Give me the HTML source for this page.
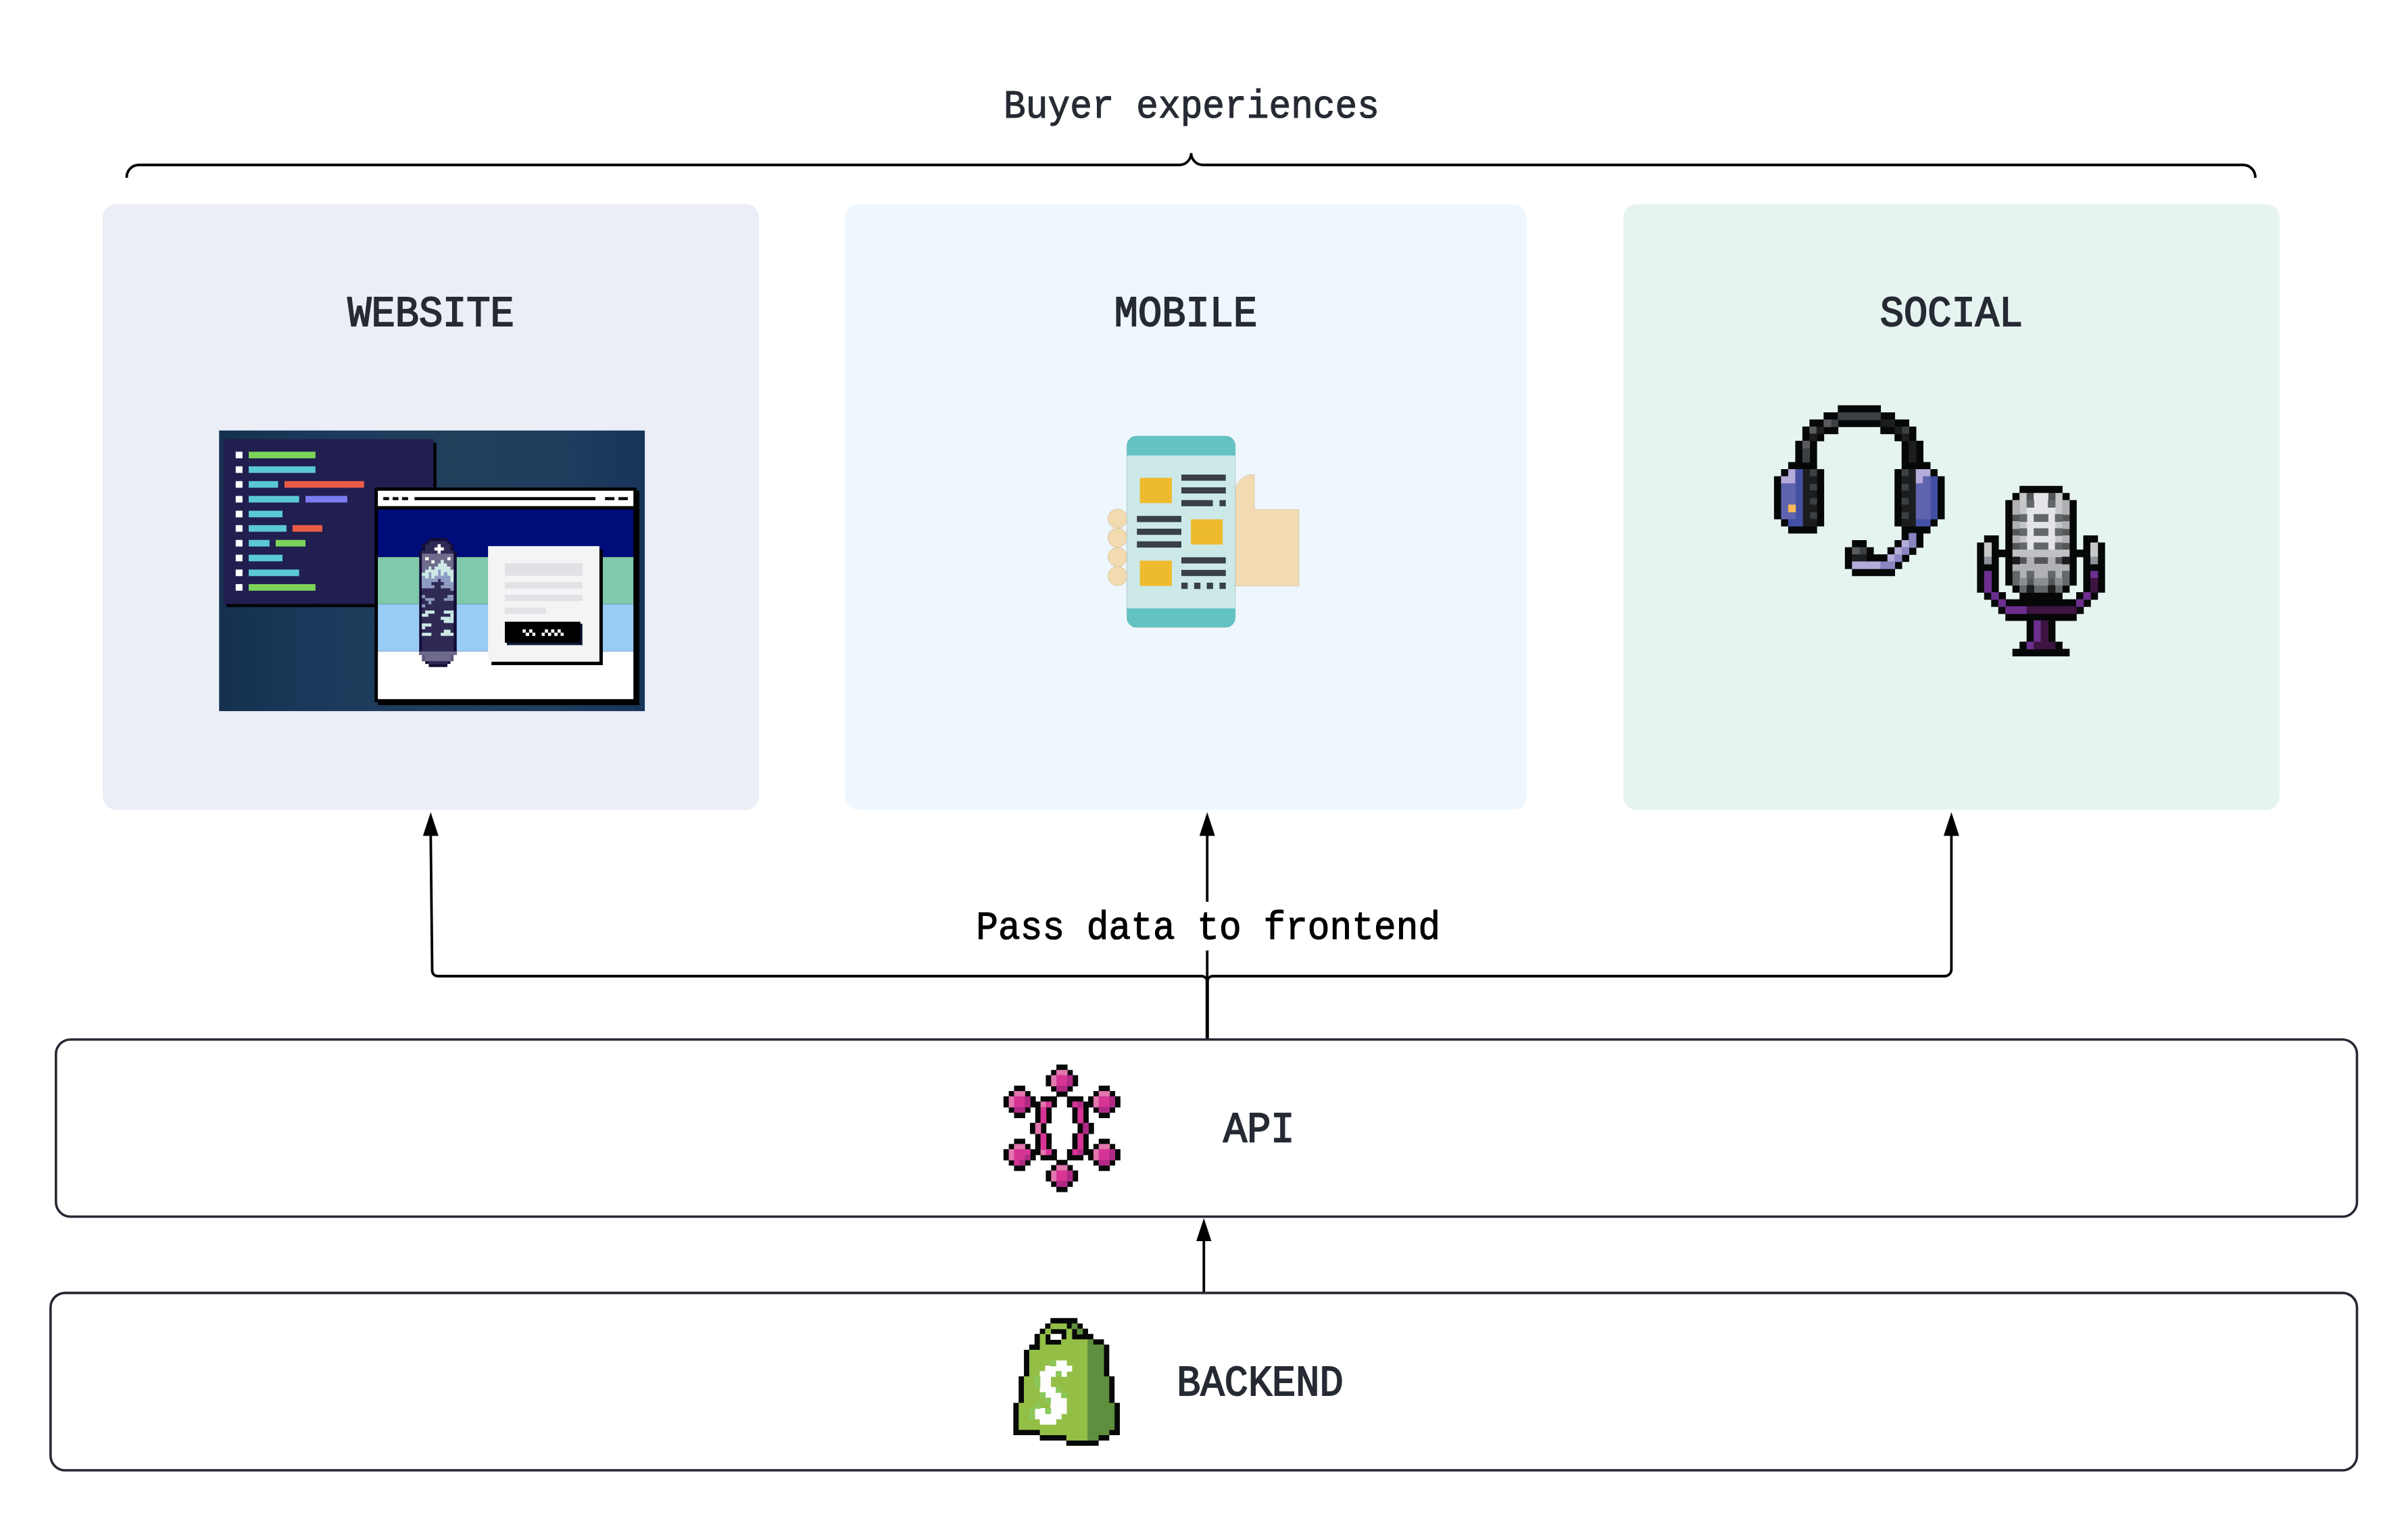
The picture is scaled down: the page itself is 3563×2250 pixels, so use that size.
<!DOCTYPE html>
<html><head><meta charset="utf-8"><title>Buyer experiences</title>
<style>html,body{margin:0;padding:0;background:#fff;width:3563px;height:2250px;overflow:hidden}svg{display:block}</style>
</head><body>
<svg width="3563" height="2250" viewBox="0 0 3563 2250">
<rect x="0" y="0" width="3563" height="2250" fill="#ffffff"/>
<rect x="152" y="302" width="971" height="896" rx="20" fill="#ebeef7"/>
<rect x="1250.6" y="302" width="1008.5" height="896" rx="20" fill="#eff7fe"/>
<rect x="2402" y="302" width="971" height="896" rx="20" fill="#e6f4f1"/>
<path d="M187.5,263 A18,18 0 0 1 205.5,244 H1745 A17.5,17.5 0 0 0 1762.5,226.5 A17.5,17.5 0 0 0 1780,244 H3319 A18,18 0 0 1 3337,263" fill="none" stroke="#000" stroke-width="3.8"/>
<g transform="translate(1763,174.2) scale(1,1.075)"><text x="0" y="0" text-anchor="middle" font-family="&quot;Liberation Mono&quot;, monospace" font-size="54.5" font-weight="normal" fill="#262a33" stroke="#262a33" stroke-width="1.1" stroke-linejoin="miter">Buyer experiences</text></g>
<g transform="translate(637.5,482.3) scale(1,1.06)"><text x="0" y="0" text-anchor="middle" font-family="&quot;Liberation Mono&quot;, monospace" font-size="58.7" font-weight="normal" fill="#262a33" stroke="#262a33" stroke-width="1.8" stroke-linejoin="miter">WEBSITE</text></g>
<g transform="translate(1754.5,482.3) scale(1,1.06)"><text x="0" y="0" text-anchor="middle" font-family="&quot;Liberation Mono&quot;, monospace" font-size="58.7" font-weight="normal" fill="#262a33" stroke="#262a33" stroke-width="1.8" stroke-linejoin="miter">MOBILE</text></g>
<g transform="translate(2887.5,482.3) scale(1,1.06)"><text x="0" y="0" text-anchor="middle" font-family="&quot;Liberation Mono&quot;, monospace" font-size="58.7" font-weight="normal" fill="#262a33" stroke="#262a33" stroke-width="1.8" stroke-linejoin="miter">SOCIAL</text></g>
<g transform="translate(310,620) scale(0.295858)">
<defs><linearGradient id="wbg" x1="0" y1="0" x2="1" y2="0"><stop offset="0" stop-color="#15304f"/><stop offset="0.25" stop-color="#1b3a5b"/><stop offset="0.55" stop-color="#223f5c"/><stop offset="0.8" stop-color="#1f3d5d"/><stop offset="1" stop-color="#18345a"/></linearGradient></defs>
<rect x="48" y="57" width="2129" height="1403" fill="url(#wbg)"/>
<rect x="85" y="117" width="1050" height="823" fill="#000000"/>
<rect x="70" y="100" width="1050" height="825" fill="#201f4f"/>
<rect x="131" y="163" width="34" height="33" fill="#ffffff"/>
<rect x="196" y="163" width="334" height="33" fill="#7dd35a"/>
<rect x="131" y="236" width="34" height="33" fill="#ffffff"/>
<rect x="196" y="236" width="334" height="33" fill="#5bc8d8"/>
<rect x="131" y="310" width="34" height="33" fill="#ffffff"/>
<rect x="196" y="310" width="147" height="33" fill="#5bc8d8"/>
<rect x="375" y="310" width="398" height="33" fill="#ec5c47"/>
<rect x="131" y="384" width="34" height="33" fill="#ffffff"/>
<rect x="196" y="384" width="252" height="33" fill="#5bc8d8"/>
<rect x="480" y="384" width="209" height="33" fill="#7b7bf2"/>
<rect x="131" y="458" width="34" height="33" fill="#ffffff"/>
<rect x="196" y="458" width="169" height="33" fill="#5bc8d8"/>
<rect x="131" y="530" width="34" height="33" fill="#ffffff"/>
<rect x="196" y="530" width="189" height="33" fill="#5bc8d8"/>
<rect x="415" y="530" width="149" height="33" fill="#ec5c47"/>
<rect x="131" y="604" width="34" height="33" fill="#ffffff"/>
<rect x="196" y="604" width="104" height="33" fill="#5bc8d8"/>
<rect x="331" y="604" width="149" height="33" fill="#7dd35a"/>
<rect x="131" y="678" width="34" height="33" fill="#ffffff"/>
<rect x="196" y="678" width="169" height="33" fill="#5bc8d8"/>
<rect x="131" y="752" width="34" height="33" fill="#ffffff"/>
<rect x="196" y="752" width="252" height="33" fill="#5bc8d8"/>
<rect x="131" y="825" width="34" height="33" fill="#ffffff"/>
<rect x="196" y="825" width="334" height="33" fill="#7dd35a"/>
<rect x="842" y="358" width="1308" height="1072" fill="#000000"/>
<rect x="826" y="342" width="1309" height="1073" fill="#000000"/>
<rect x="842" y="358" width="1278" height="77" fill="#ffffff"/>
<rect x="869" y="390" width="29" height="15" fill="#000000"/>
<rect x="916" y="390" width="29" height="15" fill="#000000"/>
<rect x="963" y="390" width="30" height="15" fill="#000000"/>
<rect x="1025" y="390" width="905" height="15" fill="#000000"/>
<rect x="1978" y="390" width="47" height="15" fill="#000000"/>
<rect x="2045" y="390" width="47" height="15" fill="#000000"/>
<rect x="842" y="452" width="1278" height="238" fill="#000c7a"/>
<rect x="842" y="690" width="1278" height="235" fill="#80c9aa"/>
<rect x="842" y="925" width="1278" height="237" fill="#99ccf5"/>
<rect x="842" y="1162" width="1278" height="238" fill="#ffffff"/>
<rect x="1410" y="652" width="557" height="578" fill="#000000"/>
<rect x="1393" y="635" width="557" height="578" fill="#f4f4f4"/>
<rect x="1477" y="720" width="388" height="63" fill="#e2e2e6"/>
<rect x="1477" y="815" width="388" height="32" fill="#e2e2e6"/>
<rect x="1477" y="878" width="388" height="32" fill="#e2e2e6"/>
<rect x="1477" y="942" width="206" height="31" fill="#e2e2e6"/>
<rect x="1487" y="1023" width="378" height="107" fill="#0a1838"/>
<rect x="1477" y="1013" width="378" height="105" fill="#000000"/>
</g>
<rect x="773.3" y="931.0" width="4.600000000000023" height="4.899999999999977" fill="#ffffff"/>
<rect x="783.0" y="931.0" width="4.7000000000000455" height="4.899999999999977" fill="#ffffff"/>
<rect x="806.2" y="931.0" width="4.599999999999909" height="4.899999999999977" fill="#ffffff"/>
<rect x="815.5" y="931.0" width="4.7000000000000455" height="4.899999999999977" fill="#ffffff"/>
<rect x="825.0" y="931.0" width="4.7000000000000455" height="4.899999999999977" fill="#ffffff"/>
<rect x="777.9" y="935.9" width="5.100000000000023" height="4.800000000000068" fill="#ffffff"/>
<rect x="787.7" y="935.9" width="4.399999999999977" height="4.800000000000068" fill="#ffffff"/>
<rect x="801.5" y="935.9" width="4.5" height="4.800000000000068" fill="#ffffff"/>
<rect x="810.8" y="935.9" width="4.7000000000000455" height="4.800000000000068" fill="#ffffff"/>
<rect x="820.2" y="935.9" width="4.7999999999999545" height="4.800000000000068" fill="#ffffff"/>
<rect x="829.5" y="935.9" width="4.5" height="4.800000000000068" fill="#ffffff"/>
<g transform="translate(610,790) scale(0.131579)">
<rect x="185" y="45" width="210" height="35" fill="#120e38"/>
<rect x="145" y="80" width="285" height="35" fill="#120e38"/>
<rect x="108" y="115" width="357" height="75" fill="#120e38"/>
<rect x="78" y="190" width="422" height="1170" fill="#120e38"/>
<rect x="185" y="80" width="210" height="35" fill="#2f2a55"/>
<rect x="145" y="115" width="285" height="75" fill="#2f2a55"/>
<rect x="108" y="190" width="357" height="30" fill="#2f2a55"/>
<rect x="250" y="150" width="105" height="35" fill="#ffffff"/>
<rect x="285" y="115" width="35" height="105" fill="#ffffff"/>
<rect x="108" y="220" width="357" height="420" fill="#6e6b8c"/>
<rect x="145" y="260" width="40" height="35" fill="#ffffff"/>
<rect x="215" y="295" width="35" height="35" fill="#ffffff"/>
<rect x="395" y="260" width="35" height="35" fill="#ffffff"/>
<path d="M108,580 V435 H145 V400 H185 V365 H215 V400 H250 V365 H290 V330 H320 V290 H355 V330 H390 V365 H430 V400 H465 V580 Z" fill="#cde9e6"/>
<path d="M108,640 V470 H145 V500 H185 V430 H215 V500 H250 V470 H290 V400 H320 V470 H355 V430 H395 V470 H430 V540 H465 V640 Z" fill="#8e9bc2"/>
<rect x="108" y="640" width="357" height="680" fill="#2f2a55"/>
<path d="M215,540 H290 V505 H320 V540 H355 V575 H320 V610 H430 V640 H108 V610 H250 V575 H215 Z" fill="#2f2a55"/>
<rect x="108" y="685" width="37" height="35" fill="#8e9bc2"/>
<rect x="145" y="720" width="105" height="30" fill="#8e9bc2"/>
<rect x="180" y="750" width="35" height="40" fill="#8e9bc2"/>
<rect x="395" y="685" width="70" height="35" fill="#8e9bc2"/>
<rect x="355" y="720" width="110" height="30" fill="#8e9bc2"/>
<rect x="108" y="790" width="37" height="35" fill="#8e9bc2"/>
<rect x="145" y="860" width="105" height="35" fill="#cde9e6"/>
<rect x="108" y="895" width="72" height="35" fill="#cde9e6"/>
<rect x="355" y="860" width="110" height="35" fill="#cde9e6"/>
<rect x="430" y="895" width="35" height="35" fill="#cde9e6"/>
<rect x="320" y="930" width="110" height="35" fill="#cde9e6"/>
<rect x="355" y="965" width="110" height="35" fill="#cde9e6"/>
<rect x="430" y="895" width="35" height="70" fill="#cde9e6"/>
<rect x="108" y="1005" width="107" height="35" fill="#cde9e6"/>
<rect x="108" y="1040" width="37" height="30" fill="#cde9e6"/>
<rect x="108" y="1110" width="107" height="35" fill="#cde9e6"/>
<rect x="355" y="1075" width="75" height="35" fill="#cde9e6"/>
<rect x="320" y="1110" width="145" height="35" fill="#cde9e6"/>
<rect x="78" y="1320" width="422" height="40" fill="#6e6b8c"/>
<rect x="108" y="1360" width="357" height="70" fill="#5d5a7c"/>
<rect x="145" y="1360" width="285" height="70" fill="#6e6b8c"/>
<rect x="145" y="1430" width="285" height="30" fill="#120e38"/>
<rect x="185" y="1430" width="210" height="30" fill="#2f2a55"/>
<rect x="185" y="1460" width="210" height="35" fill="#120e38"/>
</g>
<g transform="translate(1620,620) scale(0.216970)">
<circle cx="155" cy="678" r="66" fill="#f2dbb0" stroke="#c8bba0" stroke-width="3"/>
<circle cx="155" cy="808" r="66" fill="#f2dbb0" stroke="#c8bba0" stroke-width="3"/>
<circle cx="155" cy="940" r="66" fill="#f2dbb0" stroke="#c8bba0" stroke-width="3"/>
<circle cx="155" cy="1070" r="66" fill="#f2dbb0" stroke="#c8bba0" stroke-width="3"/>
<path d="M950,1137 H1392 V617 H1088 V378 H1078 A120,120 0 0 0 958,498 V500 H950 Z" fill="#f2dbb0" stroke="#c9bda3" stroke-width="3"/>
<rect x="218" y="115" width="740" height="1305" rx="66" fill="#cce9e8" stroke="#a9b3b3" stroke-width="3"/>
<path d="M218,248 V181 A66,66 0 0 1 284,115 H892 A66,66 0 0 1 958,181 V248 Z" fill="#63c3c2"/>
<path d="M218,1290 V1354 A66,66 0 0 0 284,1420 H892 A66,66 0 0 0 958,1354 V1290 Z" fill="#63c3c2"/>
<rect x="307" y="400" width="218" height="173" fill="#eebb2e"/>
<rect x="655" y="683" width="217" height="172" fill="#eebb2e"/>
<rect x="307" y="965" width="218" height="172" fill="#eebb2e"/>
<rect x="590" y="378" width="303" height="42" fill="#394049"/>
<rect x="590" y="465" width="303" height="42" fill="#394049"/>
<rect x="590" y="552" width="215" height="42" fill="#394049"/>
<rect x="850" y="552" width="43" height="42" fill="#394049"/>
<rect x="287" y="660" width="303" height="42" fill="#394049"/>
<rect x="287" y="747" width="303" height="42" fill="#394049"/>
<rect x="287" y="833" width="303" height="43" fill="#394049"/>
<rect x="590" y="942" width="303" height="42" fill="#394049"/>
<rect x="590" y="1028" width="303" height="42" fill="#394049"/>
<rect x="590" y="1115" width="43" height="43" fill="#394049"/>
<rect x="677" y="1115" width="43" height="43" fill="#394049"/>
<rect x="763" y="1115" width="43" height="43" fill="#394049"/>
<rect x="850" y="1115" width="43" height="43" fill="#394049"/>
</g>
<path fill="#060808" d="M2719.31 599.60h63.74v11.29h-63.74zM2698.33 610.09h21.78v11.29h-21.78zM2782.25 610.09h21.78v11.29h-21.78zM2677.35 620.58h21.78v11.29h-21.78zM2719.31 620.58h63.74v11.29h-63.74zM2803.23 620.58h21.78v11.29h-21.78zM2666.86 631.07h11.29v11.29h-11.29zM2698.33 631.07h21.78v11.29h-21.78zM2782.25 631.07h21.78v11.29h-21.78zM2824.21 631.07h11.29v11.29h-11.29zM2666.86 641.56h11.29v11.29h-11.29zM2687.84 641.56h11.29v11.29h-11.29zM2803.23 641.56h11.29v11.29h-11.29zM2824.21 641.56h11.29v11.29h-11.29zM2656.37 652.05h11.29v11.29h-11.29zM2677.35 652.05h11.29v11.29h-11.29zM2813.72 652.05h11.29v11.29h-11.29zM2834.70 652.05h11.29v11.29h-11.29zM2656.37 662.54h11.29v11.29h-11.29zM2677.35 662.54h11.29v11.29h-11.29zM2813.72 662.54h11.29v11.29h-11.29zM2834.70 662.54h11.29v11.29h-11.29zM2656.37 673.03h11.29v11.29h-11.29zM2677.35 673.03h11.29v11.29h-11.29zM2813.72 673.03h11.29v11.29h-11.29zM2834.70 673.03h11.29v11.29h-11.29zM2645.88 683.52h42.76v11.29h-42.76zM2813.72 683.52h42.76v11.29h-42.76zM2635.39 694.01h11.29v11.29h-11.29zM2687.84 694.01h11.29v11.29h-11.29zM2803.23 694.01h11.29v11.29h-11.29zM2855.68 694.01h11.29v11.29h-11.29zM2624.90 704.50h11.29v11.29h-11.29zM2687.84 704.50h11.29v11.29h-11.29zM2803.23 704.50h11.29v11.29h-11.29zM2866.17 704.50h11.29v11.29h-11.29zM2624.90 714.99h11.29v11.29h-11.29zM2687.84 714.99h11.29v11.29h-11.29zM2803.23 714.99h11.29v11.29h-11.29zM2866.17 714.99h11.29v11.29h-11.29zM2624.90 725.48h11.29v11.29h-11.29zM2687.84 725.48h11.29v11.29h-11.29zM2803.23 725.48h11.29v11.29h-11.29zM2866.17 725.48h11.29v11.29h-11.29zM2624.90 735.97h11.29v11.29h-11.29zM2687.84 735.97h11.29v11.29h-11.29zM2803.23 735.97h11.29v11.29h-11.29zM2866.17 735.97h11.29v11.29h-11.29zM2624.90 746.46h11.29v11.29h-11.29zM2687.84 746.46h11.29v11.29h-11.29zM2803.23 746.46h11.29v11.29h-11.29zM2866.17 746.46h11.29v11.29h-11.29zM2624.90 756.95h11.29v11.29h-11.29zM2687.84 756.95h11.29v11.29h-11.29zM2803.23 756.95h11.29v11.29h-11.29zM2866.17 756.95h11.29v11.29h-11.29zM2635.39 767.44h11.29v11.29h-11.29zM2687.84 767.44h11.29v11.29h-11.29zM2803.23 767.44h11.29v11.29h-11.29zM2855.68 767.44h11.29v11.29h-11.29zM2645.88 777.93h42.76v11.29h-42.76zM2813.72 777.93h42.76v11.29h-42.76zM2813.72 788.42h11.29v11.29h-11.29zM2834.70 788.42h11.29v11.29h-11.29zM2740.29 798.91h21.78v11.29h-21.78zM2803.23 798.91h11.29v11.29h-11.29zM2834.70 798.91h11.29v11.29h-11.29zM2729.80 809.40h11.29v11.29h-11.29zM2761.27 809.40h11.29v11.29h-11.29zM2792.74 809.40h11.29v11.29h-11.29zM2824.21 809.40h11.29v11.29h-11.29zM2729.80 819.89h11.29v11.29h-11.29zM2761.27 819.89h32.27v11.29h-32.27zM2813.72 819.89h11.29v11.29h-11.29zM2729.80 830.38h11.29v11.29h-11.29zM2803.23 830.38h11.29v11.29h-11.29zM2740.29 840.87h63.74v11.29h-63.74z"/>
<path fill="#3d4043" d="M2719.31 610.09h63.74v11.29h-63.74zM2708.82 620.58h11.29v11.29h-11.29zM2813.72 631.07h11.29v11.29h-11.29zM2666.86 662.54h11.29v11.29h-11.29zM2666.86 673.03h11.29v11.29h-11.29zM2677.35 694.01h11.29v11.29h-11.29zM2813.72 694.01h11.29v11.29h-11.29zM2677.35 714.99h11.29v11.29h-11.29zM2813.72 714.99h11.29v11.29h-11.29zM2677.35 735.97h11.29v11.29h-11.29zM2813.72 735.97h11.29v11.29h-11.29zM2677.35 756.95h11.29v11.29h-11.29zM2813.72 756.95h11.29v11.29h-11.29zM2750.78 809.40h11.29v11.29h-11.29z"/>
<path fill="#5a5b5e" d="M2698.33 620.58h11.29v11.29h-11.29zM2677.35 631.07h11.29v11.29h-11.29zM2666.86 652.05h11.29v11.29h-11.29zM2740.29 809.40h11.29v11.29h-11.29z"/>
<path fill="#1c1d1e" d="M2782.25 620.58h21.78v11.29h-21.78zM2687.84 631.07h11.29v11.29h-11.29zM2803.23 631.07h11.29v11.29h-11.29zM2677.35 641.56h11.29v11.29h-11.29zM2813.72 641.56h11.29v11.29h-11.29zM2824.21 652.05h11.29v11.29h-11.29zM2824.21 662.54h11.29v11.29h-11.29zM2824.21 673.03h11.29v11.29h-11.29zM2666.86 694.01h11.29v11.29h-11.29zM2824.21 694.01h11.29v11.29h-11.29zM2666.86 704.50h21.78v11.29h-21.78zM2813.72 704.50h21.78v11.29h-21.78zM2666.86 714.99h11.29v11.29h-11.29zM2824.21 714.99h11.29v11.29h-11.29zM2666.86 725.48h21.78v11.29h-21.78zM2813.72 725.48h21.78v11.29h-21.78zM2666.86 735.97h11.29v11.29h-11.29zM2824.21 735.97h11.29v11.29h-11.29zM2666.86 746.46h21.78v11.29h-21.78zM2813.72 746.46h21.78v11.29h-21.78zM2666.86 756.95h11.29v11.29h-11.29zM2824.21 756.95h11.29v11.29h-11.29zM2666.86 767.44h21.78v11.29h-21.78zM2813.72 767.44h21.78v11.29h-21.78zM2740.29 819.89h21.78v11.29h-21.78z"/>
<path fill="#b3acd8" d="M2645.88 694.01h11.29v11.29h-11.29zM2834.70 694.01h21.78v11.29h-21.78zM2635.39 704.50h21.78v11.29h-21.78zM2834.70 704.50h11.29v11.29h-11.29zM2813.72 798.91h11.29v11.29h-11.29zM2803.23 809.40h11.29v11.29h-11.29zM2792.74 819.89h11.29v11.29h-11.29zM2740.29 830.38h42.76v11.29h-42.76z"/>
<path fill="#4450a3" d="M2656.37 694.01h11.29v11.29h-11.29zM2656.37 704.50h11.29v11.29h-11.29zM2855.68 704.50h11.29v11.29h-11.29zM2656.37 714.99h11.29v11.29h-11.29zM2855.68 714.99h11.29v11.29h-11.29zM2656.37 725.48h11.29v11.29h-11.29zM2855.68 725.48h11.29v11.29h-11.29zM2656.37 735.97h11.29v11.29h-11.29zM2855.68 735.97h11.29v11.29h-11.29zM2656.37 746.46h11.29v11.29h-11.29zM2855.68 746.46h11.29v11.29h-11.29zM2656.37 756.95h11.29v11.29h-11.29zM2855.68 756.95h11.29v11.29h-11.29zM2645.88 767.44h21.78v11.29h-21.78zM2834.70 767.44h21.78v11.29h-21.78z"/>
<path fill="#6064ae" d="M2845.19 704.50h11.29v11.29h-11.29zM2635.39 714.99h21.78v11.29h-21.78zM2834.70 714.99h21.78v11.29h-21.78zM2635.39 725.48h21.78v11.29h-21.78zM2834.70 725.48h21.78v11.29h-21.78zM2635.39 735.97h21.78v11.29h-21.78zM2834.70 735.97h21.78v11.29h-21.78zM2635.39 746.46h11.29v11.29h-11.29zM2834.70 746.46h21.78v11.29h-21.78zM2635.39 756.95h21.78v11.29h-21.78zM2834.70 756.95h21.78v11.29h-21.78z"/>
<path fill="#fbb955" d="M2645.88 746.46h11.29v11.29h-11.29z"/>
<path fill="#8a86c2" d="M2824.21 788.42h11.29v11.29h-11.29zM2824.21 798.91h11.29v11.29h-11.29zM2813.72 809.40h11.29v11.29h-11.29zM2803.23 819.89h11.29v11.29h-11.29zM2782.25 830.38h21.78v11.29h-21.78z"/>
<path fill="#060808" d="M2988.18 718.70h63.68v11.28h-63.68zM2977.70 729.18h11.28v11.28h-11.28zM3051.06 729.18h11.28v11.28h-11.28zM2967.22 739.66h11.28v11.28h-11.28zM3061.54 739.66h11.28v11.28h-11.28zM2967.22 750.14h11.28v11.28h-11.28zM3061.54 750.14h11.28v11.28h-11.28zM2967.22 760.62h11.28v11.28h-11.28zM3061.54 760.62h11.28v11.28h-11.28zM2967.22 771.10h11.28v11.28h-11.28zM3061.54 771.10h11.28v11.28h-11.28zM2967.22 781.58h11.28v11.28h-11.28zM3061.54 781.58h11.28v11.28h-11.28zM2935.78 792.06h21.76v11.28h-21.76zM2967.22 792.06h11.28v11.28h-11.28zM3061.54 792.06h11.28v11.28h-11.28zM3082.50 792.06h21.76v11.28h-21.76zM2925.30 802.54h11.28v11.28h-11.28zM2946.26 802.54h11.28v11.28h-11.28zM2967.22 802.54h11.28v11.28h-11.28zM3061.54 802.54h11.28v11.28h-11.28zM3082.50 802.54h11.28v11.28h-11.28zM3103.46 802.54h11.28v11.28h-11.28zM2925.30 813.02h11.28v11.28h-11.28zM2946.26 813.02h32.24v11.28h-32.24zM3061.54 813.02h32.24v11.28h-32.24zM3103.46 813.02h11.28v11.28h-11.28zM2925.30 823.50h11.28v11.28h-11.28zM2946.26 823.50h11.28v11.28h-11.28zM2967.22 823.50h11.28v11.28h-11.28zM3061.54 823.50h11.28v11.28h-11.28zM3082.50 823.50h11.28v11.28h-11.28zM3103.46 823.50h11.28v11.28h-11.28zM2925.30 833.98h32.24v11.28h-32.24zM2967.22 833.98h11.28v11.28h-11.28zM3061.54 833.98h11.28v11.28h-11.28zM3082.50 833.98h32.24v11.28h-32.24zM2925.30 844.46h11.28v11.28h-11.28zM2946.26 844.46h11.28v11.28h-11.28zM2967.22 844.46h11.28v11.28h-11.28zM3061.54 844.46h11.28v11.28h-11.28zM3082.50 844.46h11.28v11.28h-11.28zM3103.46 844.46h11.28v11.28h-11.28zM2925.30 854.94h11.28v11.28h-11.28zM2946.26 854.94h11.28v11.28h-11.28zM2967.22 854.94h11.28v11.28h-11.28zM3061.54 854.94h11.28v11.28h-11.28zM3082.50 854.94h11.28v11.28h-11.28zM3103.46 854.94h11.28v11.28h-11.28zM2925.30 865.42h11.28v11.28h-11.28zM2946.26 865.42h11.28v11.28h-11.28zM2977.70 865.42h11.28v11.28h-11.28zM3051.06 865.42h11.28v11.28h-11.28zM3082.50 865.42h11.28v11.28h-11.28zM3103.46 865.42h11.28v11.28h-11.28zM2935.78 875.90h11.28v11.28h-11.28zM2956.74 875.90h11.28v11.28h-11.28zM2988.18 875.90h63.68v11.28h-63.68zM3072.02 875.90h11.28v11.28h-11.28zM3092.98 875.90h11.28v11.28h-11.28zM2946.26 886.38h11.28v11.28h-11.28zM2967.22 886.38h105.60v11.28h-105.60zM3082.50 886.38h11.28v11.28h-11.28zM2956.74 896.86h11.28v11.28h-11.28zM3072.02 896.86h11.28v11.28h-11.28zM2967.22 907.34h105.60v11.28h-105.60zM2998.66 917.82h11.28v11.28h-11.28zM3030.10 917.82h11.28v11.28h-11.28zM2998.66 928.30h11.28v11.28h-11.28zM3030.10 928.30h11.28v11.28h-11.28zM2998.66 938.78h11.28v11.28h-11.28zM3030.10 938.78h11.28v11.28h-11.28zM2988.18 949.26h11.28v11.28h-11.28zM3040.58 949.26h11.28v11.28h-11.28zM2977.70 959.74h84.64v11.28h-84.64z"/>
<path fill="#c5c7c9" d="M2988.18 729.18h11.28v11.28h-11.28zM3040.58 729.18h11.28v11.28h-11.28zM2988.18 739.66h11.28v11.28h-11.28zM3040.58 739.66h11.28v11.28h-11.28zM2988.18 750.14h11.28v11.28h-11.28zM3040.58 750.14h11.28v11.28h-11.28zM2988.18 771.10h11.28v11.28h-11.28zM3040.58 771.10h11.28v11.28h-11.28zM2988.18 792.06h11.28v11.28h-11.28zM3040.58 792.06h11.28v11.28h-11.28zM2935.78 802.54h11.28v11.28h-11.28zM3092.98 802.54h11.28v11.28h-11.28zM2935.78 813.02h11.28v11.28h-11.28zM3092.98 813.02h11.28v11.28h-11.28z"/>
<path fill="#545557" d="M2998.66 729.18h11.28v11.28h-11.28zM3030.10 729.18h11.28v11.28h-11.28zM2977.70 760.62h11.28v11.28h-11.28zM3051.06 760.62h11.28v11.28h-11.28zM2977.70 781.58h11.28v11.28h-11.28zM3051.06 781.58h11.28v11.28h-11.28zM2977.70 802.54h11.28v11.28h-11.28zM3051.06 802.54h11.28v11.28h-11.28zM2988.18 823.50h11.28v11.28h-11.28zM3009.14 823.50h21.76v11.28h-21.76zM3040.58 823.50h11.28v11.28h-11.28zM2998.66 854.94h11.28v11.28h-11.28zM3030.10 854.94h11.28v11.28h-11.28z"/>
<path fill="#e3e4e7" d="M3009.14 729.18h21.76v11.28h-21.76zM3009.14 739.66h21.76v11.28h-21.76zM2998.66 750.14h42.72v11.28h-42.72zM2998.66 760.62h11.28v11.28h-11.28zM3030.10 760.62h11.28v11.28h-11.28zM2998.66 771.10h42.72v11.28h-42.72zM2998.66 781.58h11.28v11.28h-11.28zM3030.10 781.58h11.28v11.28h-11.28zM2998.66 792.06h42.72v11.28h-42.72zM2998.66 802.54h11.28v11.28h-11.28zM3030.10 802.54h11.28v11.28h-11.28z"/>
<path fill="#b0b1b4" d="M2977.70 739.66h11.28v11.28h-11.28zM3051.06 739.66h11.28v11.28h-11.28zM2977.70 750.14h11.28v11.28h-11.28zM3051.06 750.14h11.28v11.28h-11.28zM2977.70 771.10h11.28v11.28h-11.28zM3051.06 771.10h11.28v11.28h-11.28zM2977.70 792.06h11.28v11.28h-11.28zM3051.06 792.06h11.28v11.28h-11.28zM2998.66 823.50h11.28v11.28h-11.28zM3030.10 823.50h11.28v11.28h-11.28zM2977.70 833.98h84.64v11.28h-84.64zM2988.18 844.46h11.28v11.28h-11.28zM3009.14 844.46h21.76v11.28h-21.76zM3040.58 844.46h11.28v11.28h-11.28z"/>
<path fill="#64676a" d="M2998.66 739.66h11.28v11.28h-11.28zM3030.10 739.66h11.28v11.28h-11.28zM2988.18 760.62h11.28v11.28h-11.28zM3009.14 760.62h21.76v11.28h-21.76zM3040.58 760.62h11.28v11.28h-11.28zM2988.18 781.58h11.28v11.28h-11.28zM3009.14 781.58h21.76v11.28h-21.76zM3040.58 781.58h11.28v11.28h-11.28zM2988.18 802.54h11.28v11.28h-11.28zM3009.14 802.54h21.76v11.28h-21.76zM3040.58 802.54h11.28v11.28h-11.28zM2977.70 844.46h11.28v11.28h-11.28zM2998.66 844.46h11.28v11.28h-11.28zM3030.10 844.46h11.28v11.28h-11.28zM3051.06 844.46h11.28v11.28h-11.28zM2977.70 854.94h11.28v11.28h-11.28zM3051.06 854.94h11.28v11.28h-11.28zM2988.18 865.42h11.28v11.28h-11.28zM3009.14 865.42h21.76v11.28h-21.76zM3040.58 865.42h11.28v11.28h-11.28z"/>
<path fill="#bfc0c3" d="M2977.70 813.02h84.64v11.28h-84.64z"/>
<path fill="#8e9399" d="M2935.78 823.50h11.28v11.28h-11.28zM3092.98 823.50h11.28v11.28h-11.28z"/>
<path fill="#1c1d1e" d="M2977.70 823.50h11.28v11.28h-11.28zM3051.06 823.50h11.28v11.28h-11.28zM2998.66 865.42h11.28v11.28h-11.28zM3030.10 865.42h11.28v11.28h-11.28z"/>
<path fill="#6d2f8e" d="M2935.78 844.46h11.28v11.28h-11.28zM3092.98 844.46h11.28v11.28h-11.28zM2935.78 854.94h11.28v11.28h-11.28zM2935.78 865.42h11.28v11.28h-11.28zM2946.26 875.90h11.28v11.28h-11.28zM3082.50 875.90h11.28v11.28h-11.28zM2956.74 886.38h11.28v11.28h-11.28zM3072.02 886.38h11.28v11.28h-11.28zM2967.22 896.86h32.24v11.28h-32.24zM3009.14 917.82h11.28v11.28h-11.28zM3009.14 928.30h11.28v11.28h-11.28zM3009.14 938.78h11.28v11.28h-11.28zM2998.66 949.26h11.28v11.28h-11.28z"/>
<path fill="#8a8d90" d="M2988.18 854.94h11.28v11.28h-11.28zM3009.14 854.94h21.76v11.28h-21.76zM3040.58 854.94h11.28v11.28h-11.28z"/>
<path fill="#3d1442" d="M3092.98 854.94h11.28v11.28h-11.28zM3092.98 865.42h11.28v11.28h-11.28zM2998.66 896.86h74.16v11.28h-74.16zM3019.62 917.82h11.28v11.28h-11.28zM3019.62 928.30h11.28v11.28h-11.28zM3019.62 938.78h11.28v11.28h-11.28zM3009.14 949.26h32.24v11.28h-32.24z"/>
<path d="M1786.25,1537 V1236" fill="none" stroke="#000" stroke-width="3.8"/>
<path d="M1786.25,1537 V1446" fill="none" stroke="#000" stroke-width="4.8"/>
<path d="M1786.25,1537 V1452 A8,8 0 0 0 1778.25,1444 H647 A8,8 0 0 1 639.5,1436 L637.3,1236" fill="none" stroke="#000" stroke-width="3.8"/>
<path d="M1786.25,1537 V1452 A8,8 0 0 1 1794.25,1444 H2877.4 A10,10 0 0 0 2887.4,1434 V1236" fill="none" stroke="#000" stroke-width="3.8"/>
<path d="M637.3,1201.5 L648.8,1236.5 L625.8,1236.5 Z" fill="#000"/>
<path d="M1786.25,1201.5 L1797.75,1236.5 L1774.75,1236.5 Z" fill="#000"/>
<path d="M2887.4,1201.5 L2898.9,1236.5 L2875.9,1236.5 Z" fill="#000"/>
<rect x="1440" y="1334" width="695" height="72" fill="#ffffff"/>
<g transform="translate(1787.7,1389.1) scale(1,1.075)"><text x="0" y="0" text-anchor="middle" font-family="&quot;Liberation Mono&quot;, monospace" font-size="54.5" font-weight="normal" fill="#000000" stroke="#000000" stroke-width="1.1" stroke-linejoin="miter">Pass data to frontend</text></g>
<rect x="82.8" y="1537.8" width="3404.7" height="262" rx="21.5" fill="#ffffff" stroke="#262a33" stroke-width="3.6"/>
<rect x="74.8" y="1912.6" width="3412.7" height="262.4" rx="21.5" fill="#ffffff" stroke="#262a33" stroke-width="3.6"/>
<path d="M1781.3,1911 V1834" fill="none" stroke="#000" stroke-width="3.8"/>
<path d="M1781.3,1802 L1792.5,1836 L1770.1,1836 Z" fill="#000"/>
<path fill="#070808" d="M1563.10 1574.80h16.46v8.63h-16.46zM1555.27 1582.63h8.63v8.63h-8.63zM1578.76 1582.63h8.63v8.63h-8.63zM1547.44 1590.46h8.63v8.63h-8.63zM1586.59 1590.46h8.63v8.63h-8.63zM1547.44 1598.29h8.63v8.63h-8.63zM1586.59 1598.29h8.63v8.63h-8.63zM1500.46 1606.12h16.46v8.63h-16.46zM1555.27 1606.12h8.63v8.63h-8.63zM1578.76 1606.12h8.63v8.63h-8.63zM1625.74 1606.12h16.46v8.63h-16.46zM1492.63 1613.95h8.63v8.63h-8.63zM1516.12 1613.95h8.63v8.63h-8.63zM1563.10 1613.95h16.46v8.63h-16.46zM1617.91 1613.95h8.63v8.63h-8.63zM1641.40 1613.95h8.63v8.63h-8.63zM1484.80 1621.78h8.63v8.63h-8.63zM1523.95 1621.78h8.63v8.63h-8.63zM1539.61 1621.78h24.29v8.63h-24.29zM1578.76 1621.78h24.29v8.63h-24.29zM1610.08 1621.78h8.63v8.63h-8.63zM1649.23 1621.78h8.63v8.63h-8.63zM1484.80 1629.61h8.63v8.63h-8.63zM1523.95 1629.61h16.46v8.63h-16.46zM1555.27 1629.61h8.63v8.63h-8.63zM1578.76 1629.61h8.63v8.63h-8.63zM1602.25 1629.61h16.46v8.63h-16.46zM1649.23 1629.61h8.63v8.63h-8.63zM1492.63 1637.44h8.63v8.63h-8.63zM1516.12 1637.44h8.63v8.63h-8.63zM1531.78 1637.44h8.63v8.63h-8.63zM1547.44 1637.44h8.63v8.63h-8.63zM1586.59 1637.44h8.63v8.63h-8.63zM1602.25 1637.44h8.63v8.63h-8.63zM1617.91 1637.44h8.63v8.63h-8.63zM1641.40 1637.44h8.63v8.63h-8.63zM1500.46 1645.27h16.46v8.63h-16.46zM1531.78 1645.27h8.63v8.63h-8.63zM1547.44 1645.27h8.63v8.63h-8.63zM1586.59 1645.27h8.63v8.63h-8.63zM1602.25 1645.27h8.63v8.63h-8.63zM1625.74 1645.27h16.46v8.63h-16.46zM1531.78 1653.10h8.63v8.63h-8.63zM1547.44 1653.10h8.63v8.63h-8.63zM1586.59 1653.10h8.63v8.63h-8.63zM1602.25 1653.10h8.63v8.63h-8.63zM1523.95 1660.93h8.63v8.63h-8.63zM1539.61 1660.93h8.63v8.63h-8.63zM1594.42 1660.93h8.63v8.63h-8.63zM1610.08 1660.93h8.63v8.63h-8.63zM1523.95 1668.76h8.63v8.63h-8.63zM1539.61 1668.76h8.63v8.63h-8.63zM1594.42 1668.76h8.63v8.63h-8.63zM1610.08 1668.76h8.63v8.63h-8.63zM1531.78 1676.59h8.63v8.63h-8.63zM1547.44 1676.59h8.63v8.63h-8.63zM1586.59 1676.59h8.63v8.63h-8.63zM1602.25 1676.59h8.63v8.63h-8.63zM1500.46 1684.42h16.46v8.63h-16.46zM1531.78 1684.42h8.63v8.63h-8.63zM1547.44 1684.42h8.63v8.63h-8.63zM1586.59 1684.42h8.63v8.63h-8.63zM1602.25 1684.42h8.63v8.63h-8.63zM1625.74 1684.42h16.46v8.63h-16.46zM1492.63 1692.25h8.63v8.63h-8.63zM1516.12 1692.25h8.63v8.63h-8.63zM1531.78 1692.25h8.63v8.63h-8.63zM1547.44 1692.25h8.63v8.63h-8.63zM1586.59 1692.25h8.63v8.63h-8.63zM1602.25 1692.25h8.63v8.63h-8.63zM1617.91 1692.25h8.63v8.63h-8.63zM1641.40 1692.25h8.63v8.63h-8.63zM1484.80 1700.08h8.63v8.63h-8.63zM1523.95 1700.08h16.46v8.63h-16.46zM1555.27 1700.08h8.63v8.63h-8.63zM1578.76 1700.08h8.63v8.63h-8.63zM1602.25 1700.08h16.46v8.63h-16.46zM1649.23 1700.08h8.63v8.63h-8.63zM1484.80 1707.91h8.63v8.63h-8.63zM1523.95 1707.91h8.63v8.63h-8.63zM1539.61 1707.91h24.29v8.63h-24.29zM1578.76 1707.91h24.29v8.63h-24.29zM1610.08 1707.91h8.63v8.63h-8.63zM1649.23 1707.91h8.63v8.63h-8.63zM1492.63 1715.74h8.63v8.63h-8.63zM1516.12 1715.74h8.63v8.63h-8.63zM1563.10 1715.74h16.46v8.63h-16.46zM1617.91 1715.74h8.63v8.63h-8.63zM1641.40 1715.74h8.63v8.63h-8.63zM1500.46 1723.57h16.46v8.63h-16.46zM1555.27 1723.57h8.63v8.63h-8.63zM1578.76 1723.57h8.63v8.63h-8.63zM1625.74 1723.57h16.46v8.63h-16.46zM1547.44 1731.40h8.63v8.63h-8.63zM1586.59 1731.40h8.63v8.63h-8.63zM1547.44 1739.23h8.63v8.63h-8.63zM1586.59 1739.23h8.63v8.63h-8.63zM1555.27 1747.06h8.63v8.63h-8.63zM1578.76 1747.06h8.63v8.63h-8.63zM1563.10 1754.89h16.46v8.63h-16.46z"/>
<path fill="#e276ad" d="M1563.10 1582.63h16.46v8.63h-16.46zM1555.27 1590.46h8.63v8.63h-8.63zM1555.27 1598.29h8.63v8.63h-8.63zM1500.46 1613.95h16.46v8.63h-16.46zM1625.74 1613.95h16.46v8.63h-16.46zM1492.63 1621.78h8.63v8.63h-8.63zM1617.91 1621.78h8.63v8.63h-8.63zM1492.63 1629.61h8.63v8.63h-8.63zM1539.61 1629.61h8.63v8.63h-8.63zM1617.91 1629.61h8.63v8.63h-8.63zM1531.78 1660.93h8.63v8.63h-8.63zM1531.78 1668.76h8.63v8.63h-8.63zM1500.46 1692.25h16.46v8.63h-16.46zM1625.74 1692.25h16.46v8.63h-16.46zM1492.63 1700.08h8.63v8.63h-8.63zM1539.61 1700.08h8.63v8.63h-8.63zM1617.91 1700.08h8.63v8.63h-8.63zM1492.63 1707.91h8.63v8.63h-8.63zM1617.91 1707.91h8.63v8.63h-8.63zM1563.10 1723.57h16.46v8.63h-16.46zM1555.27 1731.40h8.63v8.63h-8.63zM1555.27 1739.23h8.63v8.63h-8.63z"/>
<path fill="#d63595" d="M1563.10 1590.46h16.46v8.63h-16.46zM1563.10 1598.29h16.46v8.63h-16.46zM1500.46 1621.78h16.46v8.63h-16.46zM1625.74 1621.78h16.46v8.63h-16.46zM1500.46 1629.61h16.46v8.63h-16.46zM1547.44 1629.61h8.63v8.63h-8.63zM1586.59 1629.61h8.63v8.63h-8.63zM1625.74 1629.61h16.46v8.63h-16.46zM1539.61 1637.44h8.63v8.63h-8.63zM1594.42 1637.44h8.63v8.63h-8.63zM1539.61 1645.27h8.63v8.63h-8.63zM1594.42 1645.27h8.63v8.63h-8.63zM1539.61 1653.10h8.63v8.63h-8.63zM1594.42 1653.10h8.63v8.63h-8.63zM1539.61 1676.59h8.63v8.63h-8.63zM1594.42 1676.59h8.63v8.63h-8.63zM1539.61 1684.42h8.63v8.63h-8.63zM1594.42 1684.42h8.63v8.63h-8.63zM1539.61 1692.25h8.63v8.63h-8.63zM1594.42 1692.25h8.63v8.63h-8.63zM1500.46 1700.08h24.29v8.63h-24.29zM1547.44 1700.08h8.63v8.63h-8.63zM1586.59 1700.08h8.63v8.63h-8.63zM1625.74 1700.08h16.46v8.63h-16.46zM1500.46 1707.91h16.46v8.63h-16.46zM1625.74 1707.91h16.46v8.63h-16.46zM1500.46 1715.74h8.63v8.63h-8.63zM1563.10 1731.40h16.46v8.63h-16.46zM1563.10 1739.23h16.46v8.63h-16.46z"/>
<path fill="#b02a85" d="M1578.76 1590.46h8.63v8.63h-8.63zM1578.76 1598.29h8.63v8.63h-8.63zM1563.10 1606.12h16.46v8.63h-16.46zM1516.12 1621.78h8.63v8.63h-8.63zM1641.40 1621.78h8.63v8.63h-8.63zM1516.12 1629.61h8.63v8.63h-8.63zM1594.42 1629.61h8.63v8.63h-8.63zM1641.40 1629.61h8.63v8.63h-8.63zM1500.46 1637.44h16.46v8.63h-16.46zM1625.74 1637.44h16.46v8.63h-16.46zM1602.25 1660.93h8.63v8.63h-8.63zM1602.25 1668.76h8.63v8.63h-8.63zM1594.42 1700.08h8.63v8.63h-8.63zM1641.40 1700.08h8.63v8.63h-8.63zM1516.12 1707.91h8.63v8.63h-8.63zM1641.40 1707.91h8.63v8.63h-8.63zM1508.29 1715.74h8.63v8.63h-8.63zM1625.74 1715.74h16.46v8.63h-16.46zM1578.76 1731.40h8.63v8.63h-8.63zM1578.76 1739.23h8.63v8.63h-8.63zM1563.10 1747.06h16.46v8.63h-16.46z"/>
<path fill="#070908" d="M1554.28 1949.80h40.00v8.64h-40.00zM1546.44 1957.64h8.64v8.64h-8.64zM1577.80 1957.64h8.64v8.64h-8.64zM1593.48 1957.64h8.64v8.64h-8.64zM1538.60 1965.48h8.64v8.64h-8.64zM1554.28 1965.48h24.32v8.64h-24.32zM1585.64 1965.48h8.64v8.64h-8.64zM1601.32 1965.48h8.64v8.64h-8.64zM1530.76 1973.32h8.64v8.64h-8.64zM1546.44 1973.32h8.64v8.64h-8.64zM1569.96 1973.32h8.64v8.64h-8.64zM1585.64 1973.32h32.16v8.64h-32.16zM1530.76 1981.16h8.64v8.64h-8.64zM1546.44 1981.16h24.32v8.64h-24.32zM1617.00 1981.16h16.48v8.64h-16.48zM1522.92 1989.00h16.48v8.64h-16.48zM1632.68 1989.00h8.64v8.64h-8.64zM1515.08 1996.84h8.64v8.64h-8.64zM1632.68 1996.84h8.64v8.64h-8.64zM1515.08 2004.68h8.64v8.64h-8.64zM1632.68 2004.68h8.64v8.64h-8.64zM1515.08 2012.52h8.64v8.64h-8.64zM1632.68 2012.52h8.64v8.64h-8.64zM1515.08 2020.36h8.64v8.64h-8.64zM1632.68 2020.36h8.64v8.64h-8.64zM1515.08 2028.20h8.64v8.64h-8.64zM1632.68 2028.20h8.64v8.64h-8.64zM1507.24 2036.04h8.64v8.64h-8.64zM1640.52 2036.04h8.64v8.64h-8.64zM1507.24 2043.88h8.64v8.64h-8.64zM1640.52 2043.88h8.64v8.64h-8.64zM1507.24 2051.72h8.64v8.64h-8.64zM1640.52 2051.72h8.64v8.64h-8.64zM1507.24 2059.56h8.64v8.64h-8.64zM1640.52 2059.56h8.64v8.64h-8.64zM1507.24 2067.40h8.64v8.64h-8.64zM1640.52 2067.40h8.64v8.64h-8.64zM1499.40 2075.24h8.64v8.64h-8.64zM1648.36 2075.24h8.64v8.64h-8.64zM1499.40 2083.08h8.64v8.64h-8.64zM1648.36 2083.08h8.64v8.64h-8.64zM1499.40 2090.92h8.64v8.64h-8.64zM1648.36 2090.92h8.64v8.64h-8.64zM1499.40 2098.76h8.64v8.64h-8.64zM1648.36 2098.76h8.64v8.64h-8.64zM1499.40 2106.60h8.64v8.64h-8.64zM1648.36 2106.60h8.64v8.64h-8.64zM1499.40 2114.44h40.00v8.64h-40.00zM1640.52 2114.44h16.48v8.64h-16.48zM1538.60 2122.28h40.00v8.64h-40.00zM1624.84 2122.28h16.48v8.64h-16.48zM1577.80 2130.12h47.84v8.64h-47.84z"/>
<path fill="#94bf47" d="M1554.28 1957.64h24.32v8.64h-24.32zM1546.44 1965.48h8.64v8.64h-8.64zM1577.80 1965.48h8.64v8.64h-8.64zM1538.60 1973.32h8.64v8.64h-8.64zM1577.80 1973.32h8.64v8.64h-8.64zM1538.60 1981.16h8.64v8.64h-8.64zM1569.96 1981.16h40.00v8.64h-40.00zM1538.60 1989.00h71.36v8.64h-71.36zM1522.92 1996.84h87.04v8.64h-87.04zM1522.92 2004.68h87.04v8.64h-87.04zM1522.92 2012.52h32.16v8.64h-32.16zM1577.80 2012.52h32.16v8.64h-32.16zM1522.92 2020.36h24.32v8.64h-24.32zM1585.64 2020.36h24.32v8.64h-24.32zM1522.92 2028.20h16.48v8.64h-16.48zM1577.80 2028.20h32.16v8.64h-32.16zM1515.08 2036.04h16.48v8.64h-16.48zM1554.28 2036.04h55.68v8.64h-55.68zM1515.08 2043.88h16.48v8.64h-16.48zM1554.28 2043.88h55.68v8.64h-55.68zM1515.08 2051.72h24.32v8.64h-24.32zM1569.96 2051.72h40.00v8.64h-40.00zM1515.08 2059.56h24.32v8.64h-24.32zM1577.80 2059.56h32.16v8.64h-32.16zM1515.08 2067.40h32.16v8.64h-32.16zM1577.80 2067.40h32.16v8.64h-32.16zM1507.24 2075.24h24.32v8.64h-24.32zM1538.60 2075.24h16.48v8.64h-16.48zM1577.80 2075.24h32.16v8.64h-32.16zM1507.24 2083.08h16.48v8.64h-16.48zM1577.80 2083.08h32.16v8.64h-32.16zM1507.24 2090.92h16.48v8.64h-16.48zM1569.96 2090.92h40.00v8.64h-40.00zM1507.24 2098.76h32.16v8.64h-32.16zM1562.12 2098.76h47.84v8.64h-47.84zM1507.24 2106.60h102.72v8.64h-102.72zM1538.60 2114.44h71.36v8.64h-71.36zM1577.80 2122.28h32.16v8.64h-32.16z"/>
<path fill="#5e8e3e" d="M1585.64 1957.64h8.64v8.64h-8.64zM1593.48 1965.48h8.64v8.64h-8.64zM1609.16 1981.16h8.64v8.64h-8.64zM1609.16 1989.00h24.32v8.64h-24.32zM1609.16 1996.84h24.32v8.64h-24.32zM1609.16 2004.68h24.32v8.64h-24.32zM1609.16 2012.52h24.32v8.64h-24.32zM1609.16 2020.36h24.32v8.64h-24.32zM1609.16 2028.20h24.32v8.64h-24.32zM1609.16 2036.04h32.16v8.64h-32.16zM1609.16 2043.88h32.16v8.64h-32.16zM1609.16 2051.72h32.16v8.64h-32.16zM1609.16 2059.56h32.16v8.64h-32.16zM1609.16 2067.40h32.16v8.64h-32.16zM1609.16 2075.24h40.00v8.64h-40.00zM1609.16 2083.08h40.00v8.64h-40.00zM1609.16 2090.92h40.00v8.64h-40.00zM1609.16 2098.76h40.00v8.64h-40.00zM1609.16 2106.60h40.00v8.64h-40.00zM1609.16 2114.44h32.16v8.64h-32.16zM1609.16 2122.28h16.48v8.64h-16.48z"/>
<path fill="#fdfdfd" d="M1554.28 1973.32h16.48v8.64h-16.48zM1562.12 2012.52h16.48v8.64h-16.48zM1546.44 2020.36h40.00v8.64h-40.00zM1538.60 2028.20h24.32v8.64h-24.32zM1569.96 2028.20h8.64v8.64h-8.64zM1538.60 2036.04h16.48v8.64h-16.48zM1538.60 2043.88h16.48v8.64h-16.48zM1538.60 2051.72h24.32v8.64h-24.32zM1546.44 2059.56h24.32v8.64h-24.32zM1554.28 2067.40h24.32v8.64h-24.32zM1554.28 2075.24h24.32v8.64h-24.32zM1530.76 2083.08h16.48v8.64h-16.48zM1554.28 2083.08h24.32v8.64h-24.32zM1530.76 2090.92h40.00v8.64h-40.00zM1538.60 2098.76h24.32v8.64h-24.32z"/>
<path fill="#8bc75a" d="M1554.28 2012.52h8.64v8.64h-8.64zM1562.12 2028.20h8.64v8.64h-8.64zM1530.76 2036.04h8.64v8.64h-8.64zM1530.76 2043.88h8.64v8.64h-8.64zM1562.12 2051.72h8.64v8.64h-8.64zM1538.60 2059.56h8.64v8.64h-8.64zM1569.96 2059.56h8.64v8.64h-8.64zM1546.44 2067.40h8.64v8.64h-8.64zM1530.76 2075.24h8.64v8.64h-8.64zM1522.92 2083.08h8.64v8.64h-8.64zM1546.44 2083.08h8.64v8.64h-8.64zM1522.92 2090.92h8.64v8.64h-8.64z"/>
<g transform="translate(1862.75,1689) scale(1,1.06)"><text x="0" y="0" text-anchor="middle" font-family="&quot;Liberation Mono&quot;, monospace" font-size="58.7" font-weight="normal" fill="#262a33" stroke="#262a33" stroke-width="1.8" stroke-linejoin="miter">API</text></g>
<g transform="translate(1864.5,2064) scale(1,1.06)"><text x="0" y="0" text-anchor="middle" font-family="&quot;Liberation Mono&quot;, monospace" font-size="58.7" font-weight="normal" fill="#262a33" stroke="#262a33" stroke-width="1.8" stroke-linejoin="miter">BACKEND</text></g>
</svg>
</body></html>
